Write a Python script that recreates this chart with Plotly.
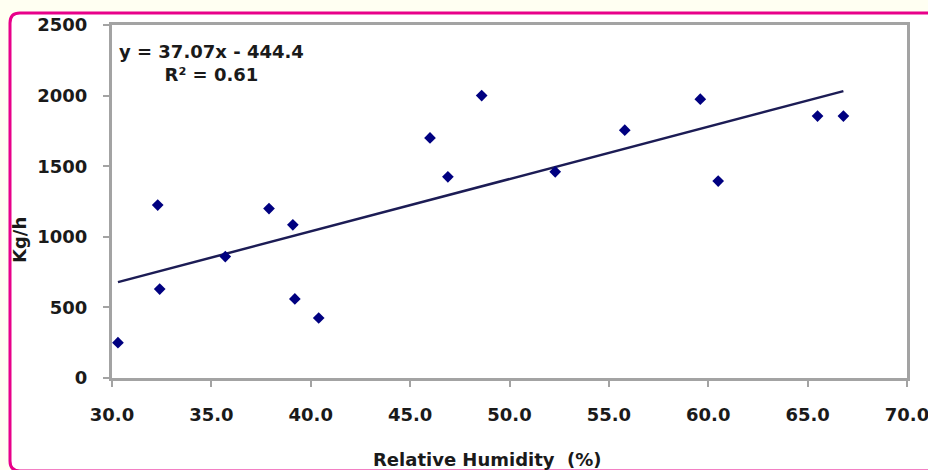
import plotly.graph_objects as go

# ---- data ----
humidity = [30.3, 32.3, 32.4, 35.7, 37.9, 39.1, 39.2, 40.4, 46.0, 46.9,
            48.6, 52.3, 55.8, 59.6, 60.5, 65.5, 66.8]
kg_per_h = [250, 1225, 630, 860, 1200, 1085, 560, 425, 1700, 1425,
            2000, 1460, 1755, 1975, 1395, 1855, 1855]
slope = 37.07
intercept = -444.4
r_squared = 0.61
x_ticks = [30, 35, 40, 45, 50, 55, 60, 65, 70]
y_ticks = [0, 500, 1000, 1500, 2000, 2500]

# ---- layout geometry (pixels) ----
W, H = 928, 470
ML, MR, MT, MB = 112, 21, 25, 92
PW, PH = W - ML - MR, H - MT - MB


def px(x):
    return (x - ML) / PW


def py(y):
    return (H - MB - y) / PH


FONT = dict(family="DejaVu Sans", size=18, color="#1a1a1a", weight="bold")
GREY = "#a3a3a3"

fig = go.Figure()

# trendline
x_fit = [min(humidity), max(humidity)]
y_fit = [slope * v + intercept for v in x_fit]
fig.add_trace(go.Scatter(x=x_fit, y=y_fit, mode="lines",
                         line=dict(color="#1c1c55", width=2.5),
                         hoverinfo="skip", showlegend=False))
# points
fig.add_trace(go.Scatter(x=humidity, y=kg_per_h, mode="markers",
                         marker=dict(symbol="diamond", size=9, color="#000080"),
                         showlegend=False))

# rounded pink frame
x0, y0, x1, y1, r = 10, 13, 945, 471, 10
pts = [("M", x0 + r, y0), ("L", x1 - r, y0), ("Q", x1, y0, x1, y0 + r),
       ("L", x1, y1 - r), ("Q", x1, y1, x1 - r, y1), ("L", x0 + r, y1),
       ("Q", x0, y1, x0, y1 - r), ("L", x0, y0 + r), ("Q", x0, y0, x0 + r, y0)]
path = ""
for p in pts:
    cmd = p[0]
    coords = p[1:]
    s = []
    for i in range(0, len(coords), 2):
        s.append(f"{px(coords[i]):.5f},{py(coords[i+1]):.5f}")
    path += cmd + " " + " ".join(s) + " "
path += "Z"
fig.add_shape(type="path", path=path, xref="paper", yref="paper",
              fillcolor="white", line=dict(color="#e8008a", width=3),
              layer="below")

fig.add_annotation(x=px(211), y=py(63), xref="paper", yref="paper",
                   text="y = 37.07x - 444.4<br>R² = 0.61", showarrow=False,
                   align="center", xanchor="center", yanchor="middle",
                   font=FONT)
fig.add_annotation(x=px(487), y=py(460), xref="paper", yref="paper",
                   text="Relative Humidity  (%)", showarrow=False,
                   xanchor="center", yanchor="middle", font=FONT)
fig.add_annotation(x=px(19), y=py(240), xref="paper", yref="paper",
                   text="Kg/h", textangle=-90, showarrow=False,
                   xanchor="center", yanchor="middle", font=FONT)

axis_common = dict(showline=True, linecolor=GREY, linewidth=3, mirror=True,
                   ticks="outside", ticklen=6, tickwidth=2, tickcolor=GREY,
                   showgrid=False, zeroline=False, tickfont=FONT,
                   ticklabeloverflow="allow")
fig.update_xaxes(range=[30, 70], tickvals=x_ticks,
                 ticktext=[f"{v:.1f}" for v in x_ticks],
                 ticklabelstandoff=12, **axis_common)
fig.update_yaxes(range=[0, 2500], tickvals=y_ticks,
                 ticktext=[str(v) for v in y_ticks],
                 ticklabelstandoff=12, **axis_common)

fig.update_layout(width=W, height=H,
                  margin=dict(l=ML, r=MR, t=MT, b=MB, autoexpand=False),
                  paper_bgcolor="#fffff2", plot_bgcolor="rgba(0,0,0,0)",
                  font=FONT, showlegend=False)

fig.write_html("out.html")
